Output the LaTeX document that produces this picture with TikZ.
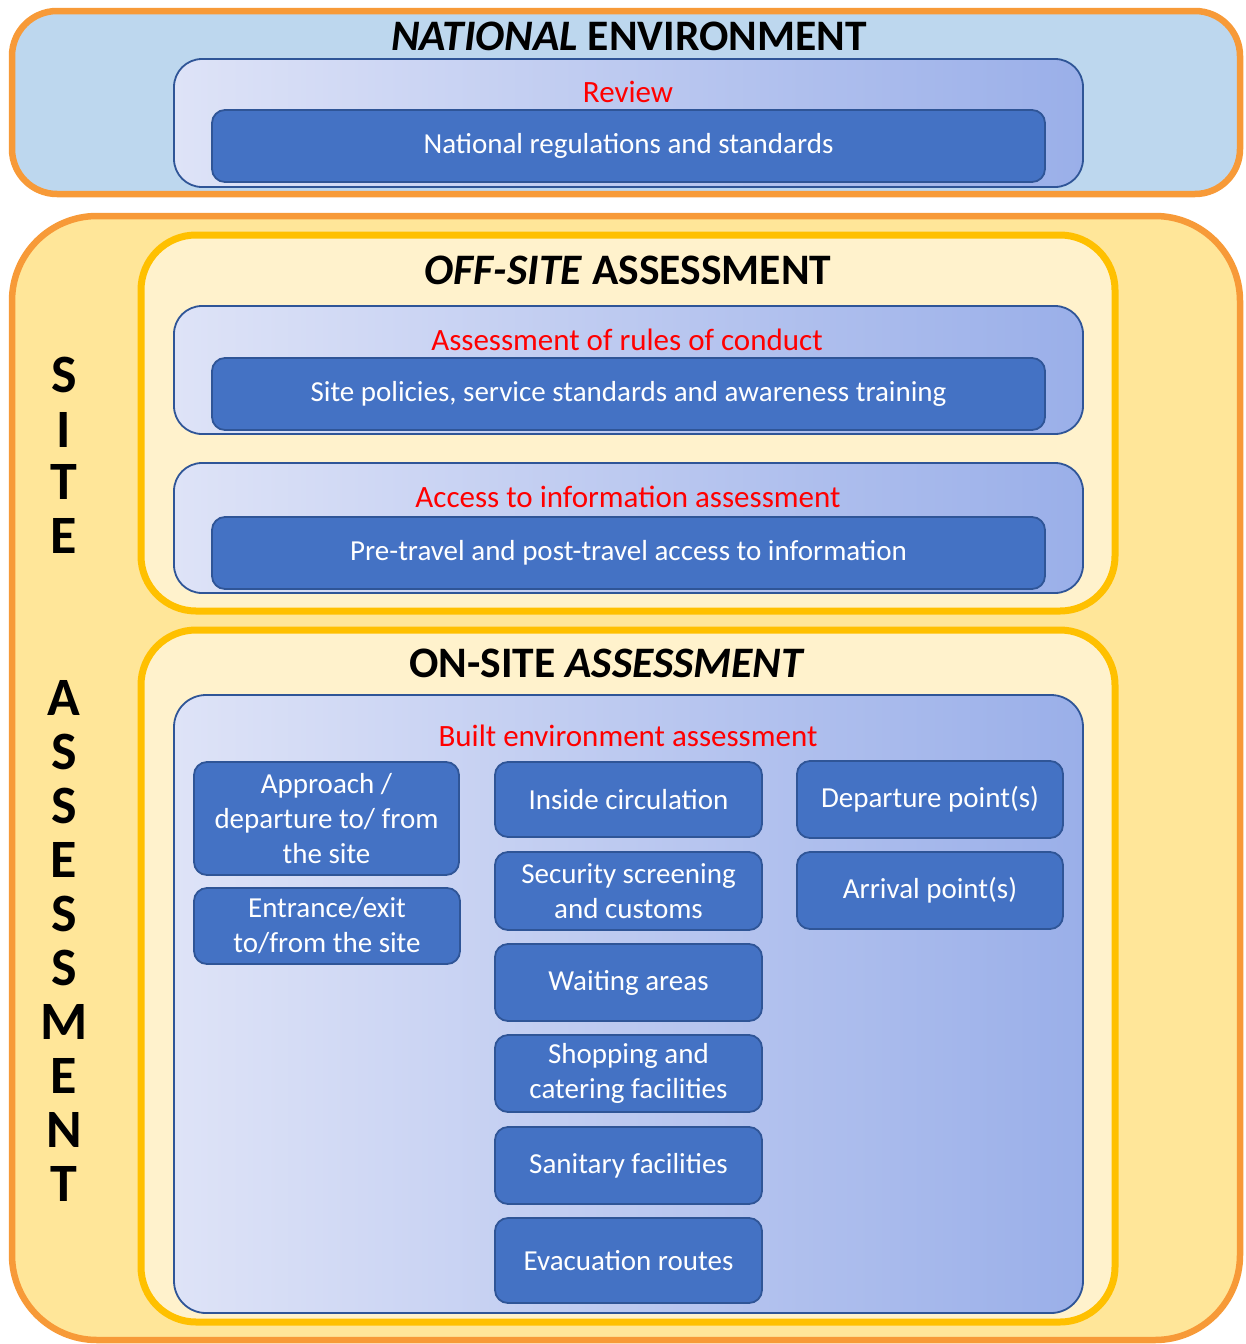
\documentclass[tikz,border=0pt]{standalone}
\usepackage{fontspec}
\setmainfont{Carlito}
\definecolor{orng}{RGB}{247,154,56}
\definecolor{natfill}{RGB}{189,215,238}
\definecolor{sitefill}{RGB}{255,230,153}
\definecolor{ylw}{RGB}{255,192,0}
\definecolor{ylwfill}{RGB}{255,242,204}
\definecolor{dstroke}{RGB}{47,85,151}
\definecolor{bfill}{RGB}{68,114,196}
\definecolor{gl}{RGB}{222,227,247}
\definecolor{gr}{RGB}{154,175,233}
\definecolor{redt}{RGB}{255,0,0}
\begin{document}
\begin{tikzpicture}[x=1pt,y=-1pt,
  outerbox/.style={draw=orng, line width=6.5pt},
  ylbox/.style={draw=ylw, fill=ylwfill, line width=7pt, rounded corners=55pt},
  gradbox/.style={draw=dstroke, line width=1.8pt, left color=gl, right color=gr, rounded corners=28pt},
  bbox/.style={draw=dstroke, fill=bfill, line width=1.8pt, rounded corners=13pt, text=white, font=\fontsize{29}{35}\selectfont, align=center, inner sep=0pt},
  ttl/.style={font=\fontsize{43.5}{46}\selectfont\bfseries, text=black, inner sep=0pt},
  redl/.style={font=\fontsize{31}{34}\selectfont, text=redt, inner sep=0pt},
  vlet/.style={font=\fontsize{54}{56}\selectfont\bfseries, text=black, inner sep=0pt}]
\useasboundingbox (0,0) rectangle (1245,1344);
% National environment
\path[outerbox, fill=natfill, rounded corners=45pt] (12,11) rectangle (1240,194);
\node[ttl] (natT) at (629,36) {\textit{NATIONAL} ENVIRONMENT};
\path[gradbox] (174,59) rectangle (1083,187);
\node[redl] (rev) at (628,92) {Review};
\node[bbox, minimum width=833pt, minimum height=72pt] (natb) at (628.5,146) {National regulations and standards};
% Site assessment
\path[outerbox, fill=sitefill, rounded corners=85pt] (12,216) rectangle (1240,1340);
\foreach \l/\y [count=\i] in {S/375,I/430,T/482,E/536,A/698,S/752,S/806,E/860,S/914,S/968,M/1022,E/1076,N/1130,T/1184}
  \node[vlet] (L\i) at (64,\y) {\l};
% Off-site
\path[ylbox] (141,235) rectangle (1115,611);
\node[ttl] (offT) at (628,270) {\textit{OFF-SITE} ASSESSMENT};
\path[gradbox] (174,306) rectangle (1083,434);
\node[redl] (rules) at (627,340) {Assessment of rules of conduct};
\node[bbox, minimum width=833pt, minimum height=72pt] (pol) at (628.5,394) {Site policies, service standards and awareness training};
\path[gradbox] (174,463) rectangle (1083,593);
\node[redl] (acc) at (628,497) {Access to information assessment};
\node[bbox, minimum width=833pt, minimum height=72pt] (pre) at (628.5,553) {Pre-travel and post-travel access to information};
% On-site
\path[ylbox] (141,630) rectangle (1115,1322);
\node[ttl] (onT) at (607,663) {ON-SITE \textit{ASSESSMENT}};
\path[gradbox, rounded corners=32pt] (174,695) rectangle (1083,1313);
\node[redl] (built) at (628,736) {Built environment assessment};
\node[bbox, minimum width=265pt, minimum height=113pt] (appr) at (326.5,818.5) {Approach /\\departure to/ from\\the site};
\node[bbox, minimum width=266pt, minimum height=76pt] (entr) at (327,926) {Entrance/exit\\to/from the site};
\node[bbox, minimum width=267pt, minimum height=75pt] (insd) at (628.5,799.5) {Inside circulation};
\node[bbox, minimum width=267pt, minimum height=78pt] (secu) at (628.5,891) {Security screening\\and customs};
\node[bbox, minimum width=267pt, minimum height=77pt] (wait) at (628.5,982.5) {Waiting areas};
\node[bbox, minimum width=267pt, minimum height=77pt] (shop) at (628.5,1073.5) {Shopping and\\catering facilities};
\node[bbox, minimum width=267pt, minimum height=77pt] (sani) at (628.5,1165.5) {Sanitary facilities};
\node[bbox, minimum width=267pt, minimum height=85pt] (evac) at (628.5,1260.5) {Evacuation routes};
\node[bbox, minimum width=266pt, minimum height=77pt] (dept) at (930,799.5) {Departure point(s)};
\node[bbox, minimum width=266pt, minimum height=77pt] (arrv) at (930,890.5) {Arrival point(s)};
\end{tikzpicture}
\end{document}
